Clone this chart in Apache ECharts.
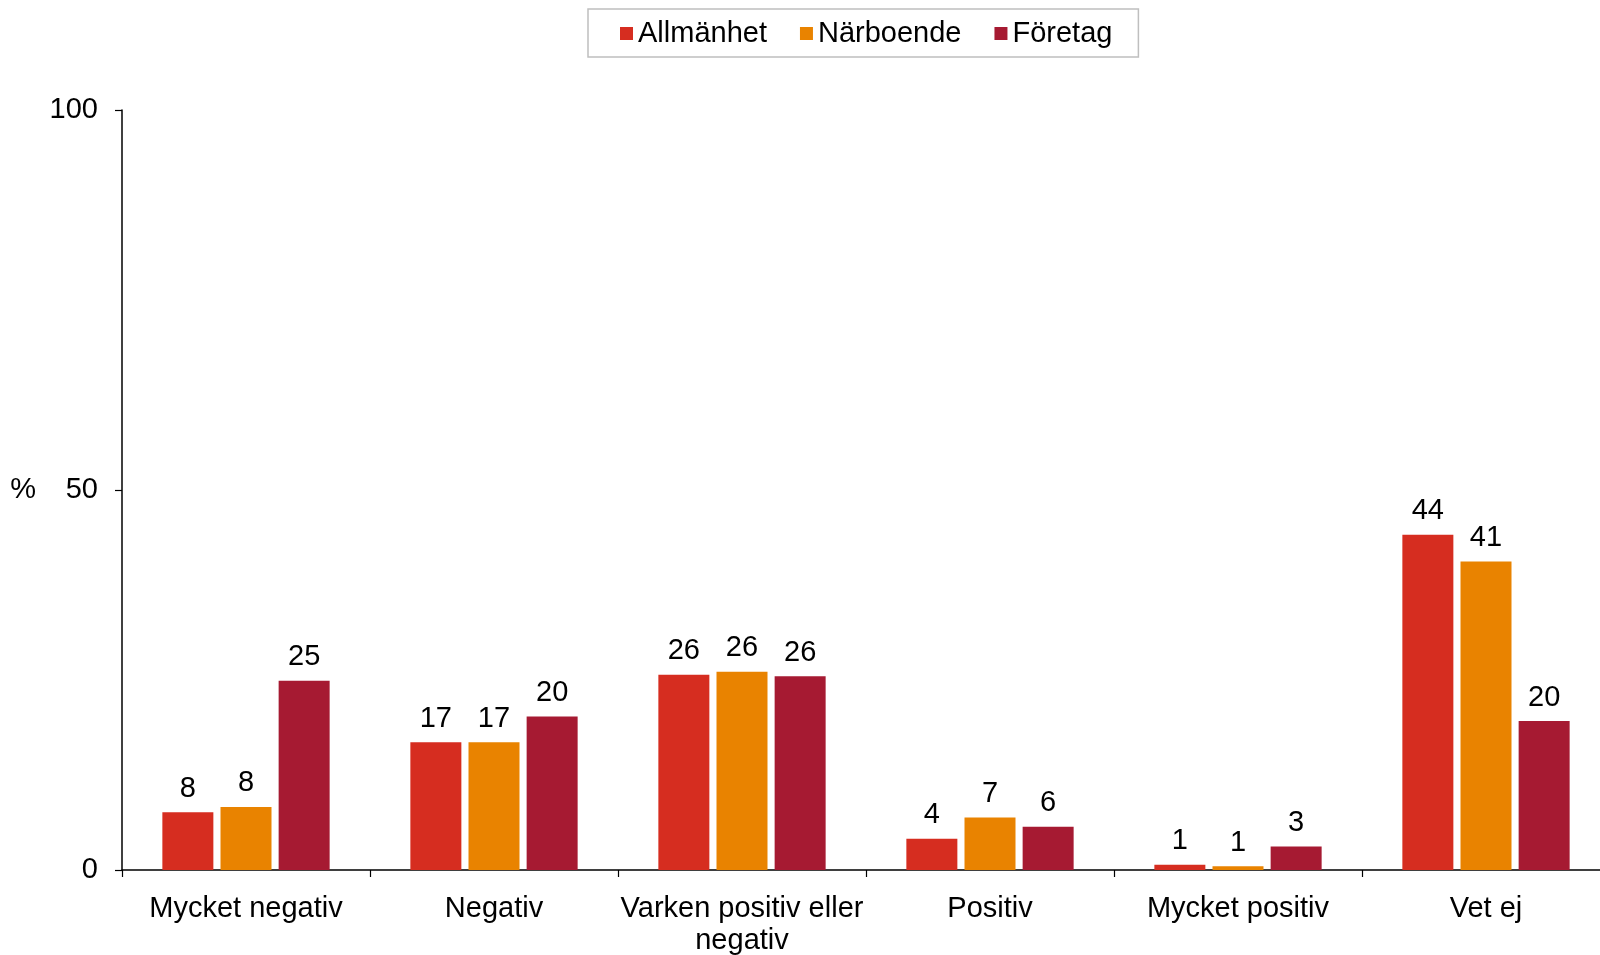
<!DOCTYPE html>
<html>
<head>
<meta charset="utf-8">
<script src="https://cdn.jsdelivr.net/npm/echarts@6/dist/echarts.min.js"></script>
<style>
html,body{margin:0;padding:0;background:#fff;}
#chart{width:1600px;height:955px;}
</style>
</head>
<body>
<div id="chart"></div>
<script>
const categories = ['Mycket negativ', 'Negativ', 'Varken positiv eller negativ', 'Positiv', 'Mycket positiv', 'Vet ej'];
const seriesNames = ['Allmänhet', 'Närboende', 'Företag'];
const allmanhet = [7.6, 16.8, 25.7, 4.1, 0.7, 44.1];
const narboende = [8.3, 16.8, 26.1, 6.9, 0.5, 40.6];
const foretag = [24.9, 20.2, 25.5, 5.7, 3.1, 19.6];
const yTicks = [0, 50, 100];
const colors = ['#D62D20', '#E98300', '#A61A32'];

const FONT = 'Liberation Sans, Arial, sans-serif';
const FS = 29;
const chart = echarts.init(document.getElementById('chart'));

function barSeries(name, data, color) {
  return {
    name: name,
    type: 'bar',
    data: data,
    barWidth: 51,
    barGap: '14%',
    itemStyle: { color: color },
    label: {
      show: true,
      position: 'top',
      distance: 9,
      formatter: p => String(Math.round(p.value)),
      color: '#000',
      fontSize: FS,
      fontFamily: FONT
    }
  };
}

chart.setOption({
  animation: false,
  color: colors,
  legend: {
    data: seriesNames,
    left: 588,
    top: 9,
    padding: [10, 26, 9, 32],
    itemWidth: 13,
    itemHeight: 13,
    itemGap: 33,
    icon: 'rect',
    borderColor: '#bfbfbf',
    borderWidth: 1.5,
    textStyle: { color: '#000', fontSize: FS, fontFamily: FONT }
  },
  grid: { left: 122, top: 110, width: 1488, bottom: 85, containLabel: false, outerBoundsMode: 'none' },
  xAxis: {
    type: 'category',
    data: categories,
    axisLine: { lineStyle: { color: '#000', width: 1.5 } },
    axisTick: { show: true, interval: 0, length: 7, lineStyle: { color: '#000', width: 1.2 } },
    axisLabel: {
      interval: 0,
      margin: 23,
      color: '#000',
      fontSize: FS,
      lineHeight: 32,
      fontFamily: FONT,
      formatter: v => v.replace('eller ', 'eller\n')
    }
  },
  yAxis: {
    type: 'value',
    min: yTicks[0],
    max: yTicks[yTicks.length - 1],
    interval: yTicks[1] - yTicks[0],
    name: '%',
    nameLocation: 'middle',
    nameRotate: 0,
    nameGap: 86,
    nameTextStyle: { color: '#000', fontSize: FS, fontFamily: FONT },
    axisLine: { show: true, lineStyle: { color: '#000', width: 1.5 } },
    axisTick: { show: true, length: 7, lineStyle: { color: '#000', width: 1.2 } },
    splitLine: { show: false },
    axisLabel: { margin: 24, color: '#000', fontSize: FS, fontFamily: FONT }
  },
  series: [
    barSeries(seriesNames[0], allmanhet, colors[0]),
    barSeries(seriesNames[1], narboende, colors[1]),
    barSeries(seriesNames[2], foretag, colors[2])
  ]
});
</script>
</body>
</html>
